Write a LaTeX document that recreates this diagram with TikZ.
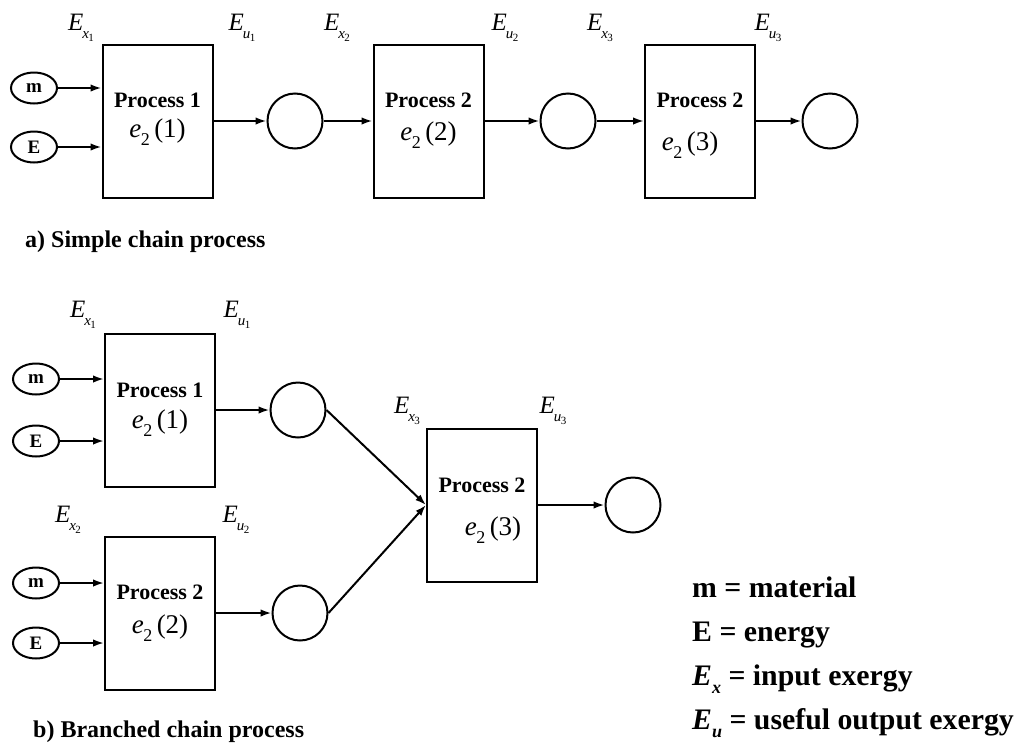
\documentclass[tikz,border=0pt]{standalone}
\usepackage{fontspec}
\setmainfont{Liberation Serif}
\usetikzlibrary{arrows.meta,shapes.geometric}
\newcommand{\ELab}[2]{\textit{E}\kern-1pt\raisebox{-0.3em}{\fontsize{15}{15}\selectfont\textit{#1}\kern-0.5pt\raisebox{-0.2em}{\fontsize{11}{11}\selectfont #2}}}
\newcommand{\eTwo}[1]{\textit{e}\kern-0.5pt\raisebox{-0.3em}{\fontsize{18}{18}\selectfont 2}\,(#1)}
\newcommand{\ESub}[1]{\textit{E}\raisebox{-0.3em}{\fontsize{18}{18}\selectfont\textit{#1}}}
\begin{document}
\begin{tikzpicture}[x=1pt,y=-1pt,
  proc/.style={draw, line width=2pt, minimum width=110pt, minimum height=153pt, inner sep=0pt},
  src/.style={draw, ellipse, line width=2pt, minimum width=46pt, minimum height=31pt, inner sep=0pt, font=\fontsize{19}{19}\selectfont\bfseries},
  sink/.style={draw, circle, line width=2pt, minimum size=55pt, inner sep=0pt},
  arr/.style={-{Latex[length=11pt,width=7.5pt]}, line width=2pt},
  ptxt/.style={font=\fontsize{22}{22}\selectfont\bfseries, inner sep=0pt},
  etxt/.style={font=\fontsize{27}{27}\selectfont, inner sep=0pt},
  lab/.style={font=\fontsize{25}{25}\selectfont, inner sep=0pt},
  captxt/.style={font=\fontsize{24}{24}\selectfont\bfseries, anchor=base west, inner sep=0pt},
  leg/.style={font=\fontsize{29.8}{29.8}\selectfont\bfseries, anchor=base west, inner sep=0pt}
]
\useasboundingbox (0,0) rectangle (1022,742);

% ---------- a) simple chain ----------
\node[src] (mA) at (34,88) {m};
\node[src] (eA) at (34,147) {E};
\node[proc] (A1) at (157.5,121) {};
\node[ptxt] (pA1) at (157.5,100) {Process 1};
\node[etxt] (xA1) at (157.5,132) {\eTwo{1}};
\node[sink] (cA1) at (295,121) {};
\node[proc] (A2) at (428.5,121) {};
\node[ptxt] (pA2) at (428.5,100) {Process 2};
\node[etxt] (xA2) at (428.5,135) {\eTwo{2}};
\node[sink] (cA2) at (568,121) {};
\node[proc] (A3) at (700,121) {};
\node[ptxt] (pA3) at (700,100) {Process 2};
\node[etxt] (xA3) at (690,145) {\eTwo{3}};
\node[sink] (cA3) at (830,121) {};

\node[lab] (lxA1) at (81,28) {\ELab{x}{1}};
\node[lab] (luA1) at (242,28) {\ELab{u}{1}};
\node[lab] (lxA2) at (337,28) {\ELab{x}{2}};
\node[lab] (luA2) at (505,28) {\ELab{u}{2}};
\node[lab] (lxA3) at (600,28) {\ELab{x}{3}};
\node[lab] (luA3) at (768,28) {\ELab{u}{3}};

\draw[arr] (mA) -- (mA -| A1.west);
\draw[arr] (eA) -- (eA -| A1.west);
\draw[arr] (A1.east) -- (cA1.west);
\draw[arr] (cA1.east) -- (A2.west);
\draw[arr] (A2.east) -- (cA2.west);
\draw[arr] (cA2.east) -- (A3.west);
\draw[arr] (A3.east) -- (cA3.west);

\node[captxt] (capA) at (25,247) {a) Simple chain process};

% ---------- b) branched chain ----------
\node[src] (mB1) at (36,379) {m};
\node[src] (eB1) at (36,441) {E};
\node[proc] (B1) at (160,410) {};
\node[ptxt] (pB1) at (160,390) {Process 1};
\node[etxt] (xB1) at (160,423) {\eTwo{1}};
\node[sink] (cB1) at (298,410) {};

\node[src] (mB2) at (36,583) {m};
\node[src] (eB2) at (36,643) {E};
\node[proc] (B2) at (160,613) {};
\node[ptxt] (pB2) at (160,592) {Process 2};
\node[etxt] (xB2) at (160,628) {\eTwo{2}};
\node[sink] (cB2) at (300,613) {};

\node[proc] (B3) at (482,505) {};
\node[ptxt] (pB3) at (482,485) {Process 2};
\node[etxt] (xB3) at (493,530) {\eTwo{3}};
\node[sink] (cB3) at (633,505) {};

\node[lab] (lxB1) at (83,315) {\ELab{x}{1}};
\node[lab] (luB1) at (237,315) {\ELab{u}{1}};
\node[lab] (lxB2) at (68,520) {\ELab{x}{2}};
\node[lab] (luB2) at (236,520) {\ELab{u}{2}};
\node[lab] (lxB3) at (407,411) {\ELab{x}{3}};
\node[lab] (luB3) at (553,411) {\ELab{u}{3}};

\draw[arr] (mB1) -- (mB1 -| B1.west);
\draw[arr] (eB1) -- (eB1 -| B1.west);
\draw[arr] (B1.east) -- (cB1.west);
\draw[arr] (mB2) -- (mB2 -| B2.west);
\draw[arr] (eB2) -- (eB2 -| B2.west);
\draw[arr] (B2.east) -- (cB2.west);
\draw[arr] (cB1.east) -- (B3.west);
\draw[arr] (cB2.east) -- (B3.west);
\draw[arr] (B3.east) -- (cB3.west);

\node[captxt] (capB) at (33,737) {b) Branched chain process};

% ---------- legend ----------
\node[leg] (g1) at (692,597) {m = material};
\node[leg] (g2) at (692,641) {E = energy};
\node[leg] (g3) at (692,685) {\ESub{x} = input exergy};
\node[leg] (g4) at (692,729) {\ESub{u} = useful output exergy};
\end{tikzpicture}
\end{document}
